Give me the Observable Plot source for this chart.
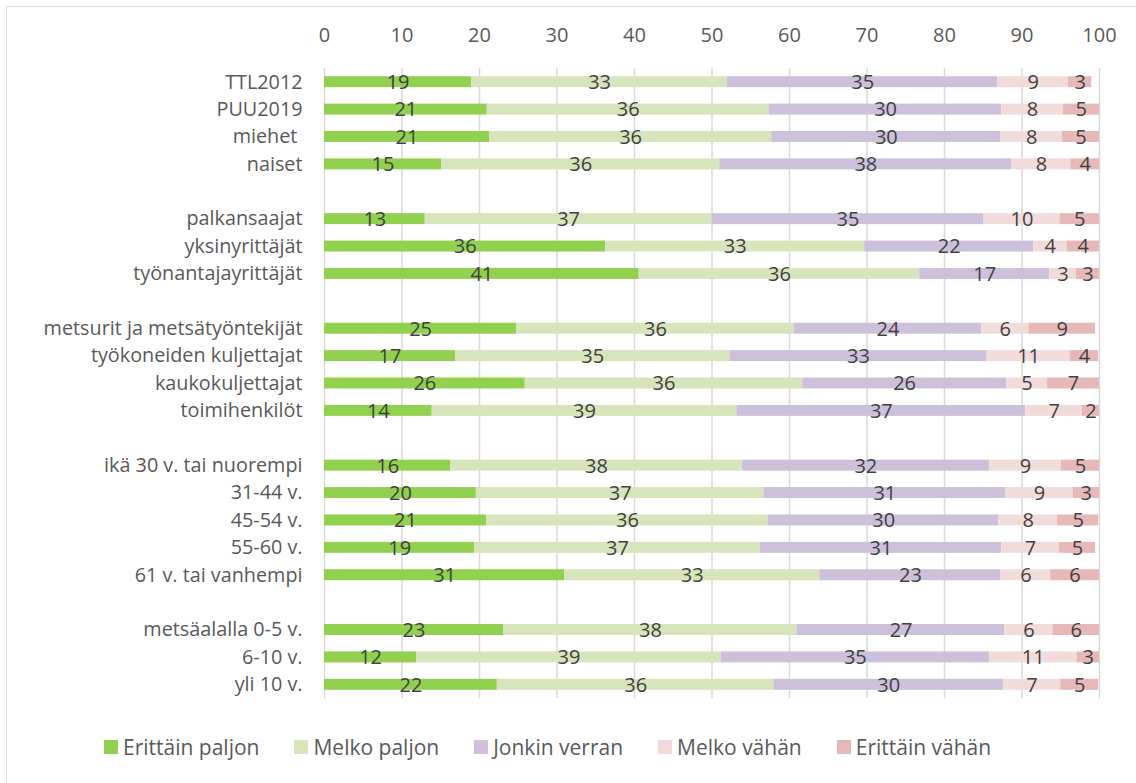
<!DOCTYPE html>
<html>
<head>
<meta charset="utf-8">
<script src="https://cdn.jsdelivr.net/npm/d3@7"></script>
<script src="https://cdn.jsdelivr.net/npm/@observablehq/plot@0.6"></script>
<style>
  html, body { margin: 0; padding: 0; background: #fff; }
  #wrap { position: relative; width: 1136px; height: 783px; overflow: hidden; font-family: "Open Sans", "Noto Sans", sans-serif; }
  #border { position: absolute; left: 6px; top: 6px; width: 1200px; height: 900px; border-left: 1.5px solid #D9D9D9; border-top: 1.5px solid #D9D9D9; }
  #chart { position: absolute; left: 0; top: 0; }
  #legend { position: absolute; left: 104px; top: 733px; height: 27px; display: flex; gap: 35px; align-items: center; font-size: 21px; color: #595959; white-space: nowrap; }
  .item { display: flex; align-items: center; gap: 5px; }
  .sw { width: 14px; height: 14px; display: inline-block; }
</style>
</head>
<body>
<div id="wrap">
  <div id="border"></div>
  <div id="chart"></div>
  <div id="legend"></div>
</div>
<script>
// Row categories (gap entries are blank separator rows)
const rows = ["TTL2012","PUU2019","miehet\u00a0","naiset","gap1",
  "palkansaajat","yksinyrittäjät","työnantajayrittäjät","gap2",
  "metsurit ja metsätyöntekijät","työkoneiden kuljettajat","kaukokuljettajat","toimihenkilöt","gap3",
  "ikä 30 v. tai nuorempi","31-44 v.","45-54 v.","55-60 v.","61 v. tai vanhempi","gap4",
  "metsäalalla 0-5 v.","6-10 v.","yli 10 v."];

const seriesNames = ["Erittäin paljon","Melko paljon","Jonkin verran","Melko vähän","Erittäin vähän"];
const seriesColors = ["#92D050","#D8E4BC","#CCC0DA","#F2DCDB","#E6B8B7"];

// Values (%) for the non-gap rows, in row order
const erittainPaljon = [19.0,21.0,21.3,15.1,13.0,36.3,40.6,24.8,16.9,25.9,13.9,16.3,19.6,20.9,19.4,31.0,23.1,11.9,22.3];
const melkoPaljon    = [33.0,36.4,36.4,35.9,37.0,33.4,36.2,35.8,35.4,35.8,39.3,37.6,37.1,36.4,36.8,32.9,37.9,39.3,35.7];
const jonkinVerran   = [34.9,30.0,29.6,37.7,35.1,21.8,16.8,24.2,33.2,26.3,37.3,31.9,31.2,29.7,31.2,23.4,26.8,34.6,29.6];
const melkoVahan     = [9.1,7.9,7.9,7.6,9.8,4.3,3.4,6.1,10.7,5.3,7.3,9.3,8.7,7.6,7.4,6.4,6.2,11.3,7.4];
const erittainVahan  = [3.0,4.7,4.8,3.7,5.1,4.2,3.0,8.6,3.7,6.7,2.2,4.9,3.4,5.3,4.7,6.3,6.0,2.9,4.9];

const xTicks = [0,10,20,30,40,50,60,70,80,90,100];

const seriesValues = [erittainPaljon, melkoPaljon, jonkinVerran, melkoVahan, erittainVahan];
const dataRows = rows.filter(r => !r.startsWith("gap"));
const data = [];
dataRows.forEach((row, i) => {
  seriesNames.forEach((s, j) => {
    data.push({row, series: s, value: seriesValues[j][i]});
  });
});

const font = "'Open Sans', 'Noto Sans', sans-serif";

const chart = Plot.plot({
  width: 1136,
  height: 711,
  marginLeft: 324,
  marginRight: 37,
  marginTop: 68,
  marginBottom: 13,
  style: {fontFamily: font, fontSize: "20px", background: "transparent", color: "#595959"},
  x: {domain: [0, 100], label: null},
  y: {domain: rows, paddingInner: 0.6, paddingOuter: 0.3, round: false, label: null},
  color: {domain: seriesNames, range: seriesColors},
  marks: [
    Plot.gridX(xTicks, {stroke: "#D9D9D9", strokeOpacity: 1, strokeWidth: 1.5}),
    Plot.axisX(xTicks, {anchor: "top", label: null, tickSize: 0, tickPadding: 27, fill: "#595959", fontSize: 20, tickFormat: d => String(d)}),
    Plot.axisY({label: null, tickSize: 0, tickPadding: 22, fill: "#595959", fontSize: 19.8, tickFormat: d => d.startsWith("gap") ? "" : d}),
    Plot.barX(data, Plot.stackX({x: "value", y: "row", fill: "series", order: seriesNames})),
    Plot.textX(data, Plot.stackX({x: "value", y: "row", z: "series", order: seriesNames,
      text: d => String(Math.round(d.value)), fill: "#404040", fontSize: 20, dy: 0.5}))
  ]
});
document.getElementById("chart").appendChild(chart);

const legend = document.getElementById("legend");
seriesNames.forEach((s, i) => {
  const item = document.createElement("div");
  item.className = "item";
  const sw = document.createElement("span");
  sw.className = "sw";
  sw.style.background = seriesColors[i];
  const t = document.createElement("span");
  t.textContent = s;
  item.appendChild(sw);
  item.appendChild(t);
  legend.appendChild(item);
});
</script>
</body>
</html>
